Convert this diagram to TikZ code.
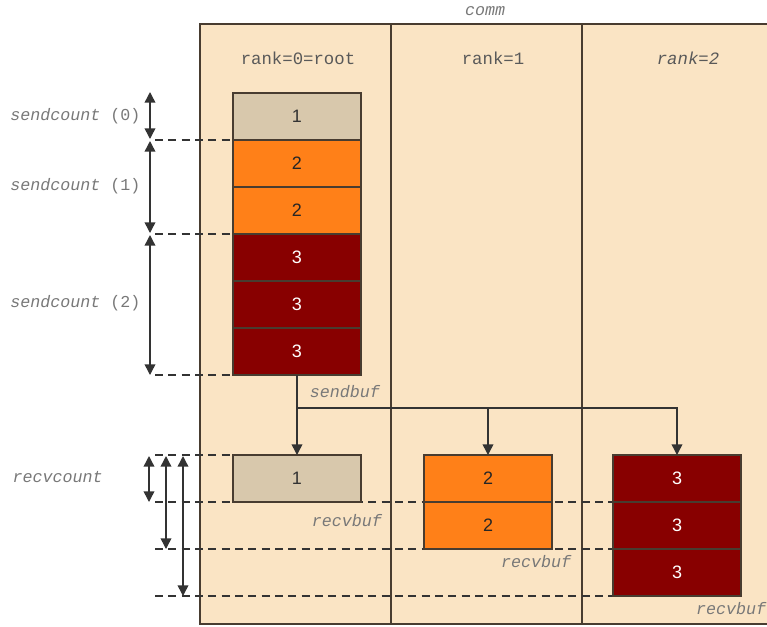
\documentclass[tikz,border=0pt]{standalone}
\usepackage{fontspec}
\setmainfont{Liberation Sans}
\setmonofont{Liberation Mono}
\usetikzlibrary{arrows.meta}
\definecolor{commbg}{RGB}{250,228,196}
\definecolor{tanc}{RGB}{216,200,172}
\definecolor{orangec}{RGB}{255,128,24}
\definecolor{redc}{RGB}{136,0,0}
\definecolor{framec}{RGB}{72,60,48}
\definecolor{labelc}{RGB}{120,120,120}
\tikzset{
  frame/.style   = {draw=framec,line width=1pt},
  cell/.style    = {draw=framec,line width=0.8pt,minimum width=96pt,minimum height=35.25pt,
                    inner sep=0pt,outer sep=0pt,font=\fontsize{13.5}{15}\selectfont},
  lowcell/.style = {cell,fill=tanc,text=black!80},
  midcell/.style = {cell,fill=orangec,text=black!85},
  topcell/.style = {cell,fill=redc,text=white},
  head/.style    = {font=\ttfamily\fontsize{13}{15}\selectfont,text=black!65},
  lbl/.style     = {font=\ttfamily\fontsize{12.5}{15}\selectfont,text=labelc},
  ilbl/.style    = {lbl,font=\ttfamily\itshape\fontsize{12.5}{15}\selectfont},
  flowarr/.style = {-{Triangle[length=8pt,width=8pt]},line width=1.1pt,draw=black!80},
  dimarr/.style  = {{Triangle[length=8pt,width=8pt]}-{Triangle[length=8pt,width=8pt]},line width=1.1pt,draw=black!80},
  guide/.style   = {black!80,line width=0.8pt,dash pattern=on 6pt off 4pt}
}
\begin{document}
\begin{tikzpicture}[x=0.75pt,y=-0.75pt]
  \useasboundingbox (0,0) rectangle (767,626);
  \clip (0,0) rectangle (767,626);
  % the communicator and its three ranks
  \fill[commbg] (200,24) rectangle (800,624);
  \draw[frame] (200,24) rectangle (800,624);
  \draw[frame] (391,24) -- (391,624);
  \draw[frame] (582,24) -- (582,624);
  \node[ilbl] (comm) at (485,11) {comm};
  \node[head] (h0) at (298,58) {rank=0=root};
  \node[head] (h1) at (493,58) {rank=1};
  \node[head,font=\ttfamily\itshape\fontsize{13}{15}\selectfont] (h2) at (688,58) {rank=2};
  % guide lines under the cells
  \draw[guide] (155,140) -- (233,140);
  \draw[guide] (155,234) -- (233,234);
  \draw[guide] (155,375) -- (233,375);
  \draw[guide] (155,455) -- (233,455);
  \draw[guide] (155,502) -- (613,502);
  \draw[guide] (155,549) -- (613,549);
  \draw[guide] (155,596) -- (613,596);
  % send buffer on the root
  \node[lowcell] (s1) at (297,116.5) {1};
  \node[midcell] (s2) at (297,163.5) {2};
  \node[midcell] (s3) at (297,210.5) {2};
  \node[topcell] (s4) at (297,257.5) {3};
  \node[topcell] (s5) at (297,304.5) {3};
  \node[topcell] (s6) at (297,351.5) {3};
  \node[ilbl] (sb) at (345,392) {sendbuf};
  % receive buffers
  \node[lowcell] (r0a) at (297,478.5) {1};
  \node[midcell] (r1a) at (488,478.5) {2};
  \node[midcell] (r1b) at (488,525.5) {2};
  \node[topcell] (r2a) at (677,478.5) {3};
  \node[topcell] (r2b) at (677,525.5) {3};
  \node[topcell] (r2c) at (677,572.5) {3};
  \node[ilbl] (rb0) at (347,521) {recvbuf};
  \node[ilbl] (rb1) at (536,562) {recvbuf};
  \node[ilbl] (rb2) at (731,609) {recvbuf};
  % scatter from the root
  \coordinate (split) at (s6.south |- 0,408);
  \draw[flowarr] (s6.south) -- (r0a.north);
  \draw[flowarr] (split) -| (r2a.north);
  \draw[flowarr] (split -| r1a.north) -- (r1a.north);
  % counts on the left
  \draw[dimarr] (150,92) -- (150,139);
  \draw[dimarr] (150,141) -- (150,233);
  \draw[dimarr] (150,235) -- (150,375);
  \node[lbl,anchor=east] (c0) at (145,116) {{\itshape sendcount} (0)};
  \node[lbl,anchor=east] (c1) at (145,186) {{\itshape sendcount} (1)};
  \node[lbl,anchor=east] (c2) at (145,303) {{\itshape sendcount} (2)};
  \draw[dimarr] (149,456) -- (149,502);
  \draw[dimarr] (166,456) -- (166,549);
  \draw[dimarr] (183,456) -- (183,596);
  \node[ilbl,anchor=west] (rc) at (8,477) {recvcount};
\end{tikzpicture}
\end{document}
